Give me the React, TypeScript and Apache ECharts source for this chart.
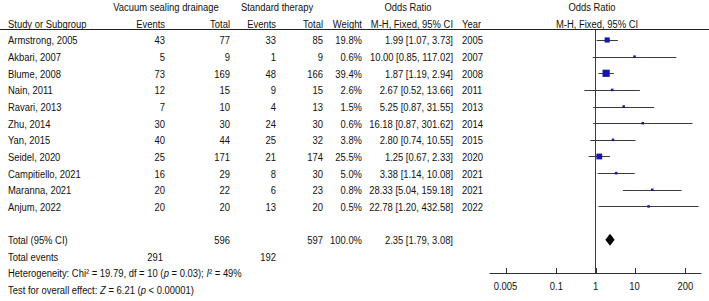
import React, { useEffect, useRef } from "react";
import * as echarts from "echarts";

// ---- Data ----
const studies = [
  "Armstrong, 2005", "Akbari, 2007", "Blume, 2008", "Nain, 2011", "Ravari, 2013",
  "Zhu, 2014", "Yan, 2015", "Seidel, 2020", "Campitiello, 2021", "Maranna, 2021", "Anjum, 2022",
];
const vsdEvents = [43, 5, 73, 12, 7, 30, 40, 25, 16, 20, 20];
const vsdTotal = [77, 9, 169, 15, 10, 30, 44, 171, 29, 22, 20];
const stdEvents = [33, 1, 48, 9, 4, 24, 25, 21, 8, 6, 13];
const stdTotal = [85, 9, 166, 15, 13, 30, 32, 174, 30, 23, 20];
const weights = [19.8, 0.6, 39.4, 2.6, 1.5, 0.6, 3.8, 25.5, 5.0, 0.8, 0.5];
const orValues = [1.99, 10.0, 1.87, 2.67, 5.25, 16.18, 2.8, 1.25, 3.38, 28.33, 22.78];
const ciLower = [1.07, 0.85, 1.19, 0.52, 0.87, 0.87, 0.74, 0.67, 1.14, 5.04, 1.2];
const ciUpper = [3.73, 117.02, 2.94, 13.66, 31.55, 301.62, 10.55, 2.33, 10.08, 159.18, 432.58];
const years = [2005, 2007, 2008, 2011, 2013, 2014, 2015, 2020, 2021, 2021, 2022];
const pooledOR = [2.35];
const pooledLower = [1.79];
const pooledUpper = [3.08];
const totalWeightLabel = "100.0%";
const groupLabels = ["Vacuum sealing drainage", "Standard therapy"];
const axisTicks = [0.005, 0.1, 1, 10, 200];
const heterogeneityText = "Heterogeneity: Chi\u00B2 = 19.79, df = 10 ({i|p} = 0.03); {i|I}\u00B2 = 49%";
const overallText = "Test for overall effect: {i|Z} = 6.21 ({i|p} < 0.00001)";

// ---- Layout ----
const FONT = "'Liberation Sans', Arial, sans-serif";
const FS = 11.5;
const SX = 0.82; // horizontal condensation to mimic a narrow face
const COL = { study: 8, evA: 165, totA: 230, evB: 276, totB: 323, weight: 362, orci: 453, year: 462 };

type Cell = { text: string; x: number; align: "left" | "right" | "center" };
type Row = { row: number; cells: Cell[] };

const f2 = (v: number) => v.toFixed(2);
const sum = (a: number[]) => a.reduce((s, v) => s + v, 0);

const tableRows: Row[] = [];
tableRows.push({
  row: -2,
  cells: [
    { text: groupLabels[0], x: 166, align: "center" },
    { text: groupLabels[1], x: 277, align: "center" },
    { text: "Odds Ratio", x: 408, align: "center" },
    { text: "Odds Ratio", x: 592, align: "center" },
  ],
});
tableRows.push({
  row: -1,
  cells: [
    { text: "Study or Subgroup", x: COL.study, align: "left" },
    { text: "Events", x: COL.evA, align: "right" },
    { text: "Total", x: COL.totA, align: "right" },
    { text: "Events", x: COL.evB, align: "right" },
    { text: "Total", x: COL.totB, align: "right" },
    { text: "Weight", x: COL.weight, align: "right" },
    { text: "M-H, Fixed, 95% CI", x: COL.orci, align: "right" },
    { text: "Year", x: COL.year, align: "left" },
    { text: "M-H, Fixed, 95% CI", x: 597, align: "center" },
  ],
});
studies.forEach((s, i) => {
  tableRows.push({
    row: i,
    cells: [
      { text: s, x: COL.study, align: "left" },
      { text: String(vsdEvents[i]), x: COL.evA, align: "right" },
      { text: String(vsdTotal[i]), x: COL.totA, align: "right" },
      { text: String(stdEvents[i]), x: COL.evB, align: "right" },
      { text: String(stdTotal[i]), x: COL.totB, align: "right" },
      { text: weights[i].toFixed(1) + "%", x: COL.weight, align: "right" },
      { text: `${f2(orValues[i])} [${f2(ciLower[i])}, ${f2(ciUpper[i])}]`, x: COL.orci, align: "right" },
      { text: String(years[i]), x: COL.year, align: "left" },
    ],
  });
});
tableRows.push({
  row: 12,
  cells: [
    { text: "Total (95% CI)", x: COL.study, align: "left" },
    { text: String(sum(vsdTotal)), x: COL.totA, align: "right" },
    { text: String(sum(stdTotal)), x: COL.totB, align: "right" },
    { text: totalWeightLabel, x: COL.weight, align: "right" },
    { text: `${f2(pooledOR[0])} [${f2(pooledLower[0])}, ${f2(pooledUpper[0])}]`, x: COL.orci, align: "right" },
  ],
});
tableRows.push({
  row: 13,
  cells: [
    { text: "Total events", x: COL.study, align: "left" },
    { text: String(sum(vsdEvents)), x: COL.evA - 2, align: "right" },
    { text: String(sum(stdEvents)), x: COL.evB, align: "right" },
  ],
});
tableRows.push({ row: 14, cells: [{ text: heterogeneityText, x: COL.study, align: "left" }] });
tableRows.push({ row: 15, cells: [{ text: overallText, x: COL.study, align: "left" }] });

const LINE = "#3c3c3c";
const SQUARE = "#1616b0";

export default function App() {
  const ref = useRef<HTMLDivElement>(null);
  useEffect(() => {
    if (!ref.current) return;
    const chart = echarts.init(ref.current, undefined, { renderer: "svg" });
    const textStyle = (text: string, align: string) => ({
      text,
      fill: "#111",
      fontSize: FS,
      fontFamily: FONT,
      align,
      verticalAlign: "middle",
      rich: { i: { fontStyle: "italic", fontSize: FS, fontFamily: FONT, fill: "#111" } },
    });
    chart.setOption({
      animation: false,
      backgroundColor: "#fff",
      grid: { left: 490, width: 211, top: 30, height: 243, containLabel: false },
      xAxis: {
        type: "log",
        logBase: 10,
        min: 0.002,
        max: 500,
        axisLine: { show: true, onZero: false, lineStyle: { color: "#333", width: 1 } },
        axisTick: { show: false },
        axisLabel: { show: false },
        splitLine: { show: false },
      },
      yAxis: {
        type: "value",
        inverse: true,
        min: -0.6,
        max: 14,
        show: false,
        splitLine: { show: false },
      },
      graphic: [
        {
          type: "line",
          shape: { x1: 0, y1: 29.5, x2: 709, y2: 29.5 },
          style: { stroke: "#222", lineWidth: 1 },
        },
      ],
      series: [
        {
          type: "custom",
          name: "table",
          clip: false,
          silent: true,
          data: tableRows.map((r) => [1, r.row]),
          encode: { x: 0, y: 1 },
          renderItem: (params: any, api: any) => {
            const r = tableRows[params.dataIndex];
            const y = api.coord([1, r.row])[1];
            return {
              type: "group",
              children: r.cells.map((c) => ({
                type: "text",
                x: c.x,
                y,
                scaleX: SX,
                style: textStyle(c.text, c.align),
              })),
            };
          },
        },
        {
          type: "custom",
          name: "ci",
          clip: false,
          silent: true,
          data: ciLower.map((lo, i) => [lo, ciUpper[i], i]),
          encode: { x: [0, 1], y: 2 },
          renderItem: (params: any, api: any) => {
            const p1 = api.coord([api.value(0), api.value(2)]);
            const p2 = api.coord([api.value(1), api.value(2)]);
            const yy = Math.round(p1[1]) + 0.5;
            return {
              type: "line",
              shape: { x1: p1[0], y1: yy, x2: p2[0], y2: yy },
              style: { stroke: LINE, lineWidth: 1 },
            };
          },
        },
        {
          type: "scatter",
          name: "or",
          silent: true,
          symbol: "rect",
          data: orValues.map((v, i) => [v, i, weights[i]]),
          symbolSize: (v: number[]) => Math.max(2.5, 1.15 * Math.sqrt(v[2])),
          itemStyle: { color: SQUARE, opacity: 1 },
          z: 5,
          markLine: {
            silent: true,
            symbol: "none",
            label: { show: false },
            lineStyle: { color: LINE, type: "solid", width: 1 },
            data: [{ xAxis: 1 }],
          },
        },
        {
          type: "custom",
          name: "pooled",
          clip: false,
          silent: true,
          data: pooledOR.map((v, i) => [pooledLower[i], v, pooledUpper[i], 12]),
          encode: { x: [0, 1, 2], y: 3 },
          renderItem: (params: any, api: any) => {
            const row = api.value(3);
            const a = api.coord([api.value(0), row]);
            const m = api.coord([api.value(1), row]);
            const b = api.coord([api.value(2), row]);
            return {
              type: "polygon",
              shape: { points: [[a[0], a[1]], [m[0], m[1] - 6], [b[0], b[1]], [m[0], m[1] + 6]] },
              style: { fill: "#000" },
            };
          },
          z: 6,
        },
        {
          type: "custom",
          name: "ticks",
          clip: false,
          silent: true,
          data: axisTicks.map((v) => [v, 14]),
          encode: { x: 0, y: 1 },
          renderItem: (params: any, api: any) => {
            const v = api.value(0);
            const p = api.coord([v, 14]);
            const x = Math.round(p[0]) + 0.5;
            return {
              type: "group",
              children: [
                {
                  type: "line",
                  shape: { x1: x, y1: p[1] - 5, x2: x, y2: p[1] },
                  style: { stroke: "#333", lineWidth: 1 },
                },
                {
                  type: "text",
                  x: p[0],
                  y: p[1] + 13,
                  scaleX: SX,
                  style: textStyle(String(v), "center"),
                },
              ],
            };
          },
        },
      ],
    });
    return () => chart.dispose();
  }, []);
  return (
    <div
      ref={ref}
      style={{ position: "fixed", left: 0, top: 0, width: 709, height: 301, background: "#fff" }}
    />
  );
}
